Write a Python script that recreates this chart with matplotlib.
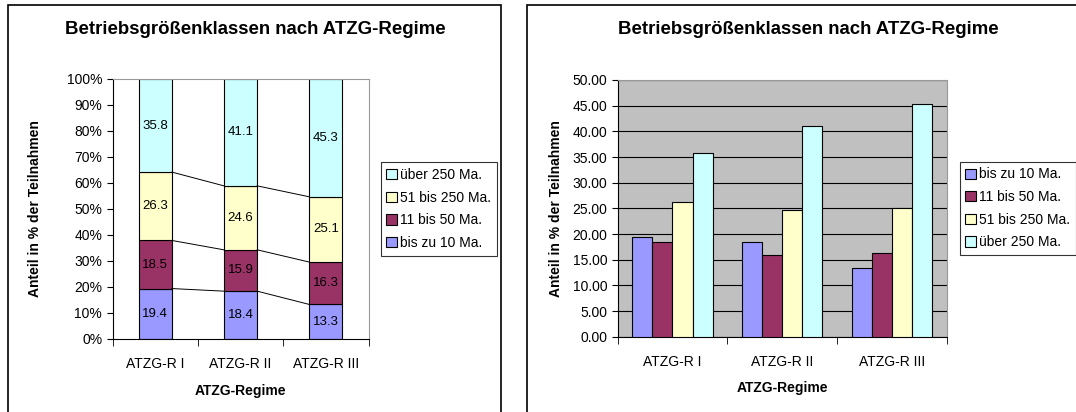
import numpy as np
import matplotlib.pyplot as plt
from matplotlib.patches import Rectangle

plt.rcParams['font.family'] = ['Liberation Sans', 'DejaVu Sans']

regime = ['ATZG-R I', 'ATZG-R II', 'ATZG-R III']
klassen = ['bis zu 10 Ma.', '11 bis 50 Ma.', '51 bis 250 Ma.', 'über 250 Ma.']
bis10 = [19.4, 18.4, 13.3]
bis50 = [18.5, 15.9, 16.3]
bis250 = [26.3, 24.6, 25.1]
ueber250 = [35.8, 41.1, 45.3]
farben = ['#9999FF', '#993366', '#FFFFCC', '#CCFFFF']

W, H = 1076, 412
fig = plt.figure(figsize=(W / 100, H / 100), dpi=100)

def px_axes(x0, y0, x1, y1):
    return fig.add_axes([x0 / W, (H - y1) / H, (x1 - x0) / W, (y1 - y0) / H])

# panel frames
fig.patches.append(Rectangle((8 / W, -0.1), (501 - 8) / W, (H - 5) / H + 0.1,
                             transform=fig.transFigure, fill=False, ec='black', lw=1.2))
fig.patches.append(Rectangle((527 / W, -0.1), 0.6, (H - 5) / H + 0.1,
                             transform=fig.transFigure, fill=False, ec='black', lw=1.2))

serien = [bis10, bis50, bis250, ueber250]
x = np.arange(len(regime))
fs = 10
titel = 'Betriebsgrößenklassen nach ATZG-Regime'

# left: stacked 100%
ax1 = px_axes(112.6, 79, 368.5, 339)
bw = 0.39
unten = np.zeros(3)
handles = []
for werte, farbe, name in zip(serien, farben, klassen):
    werte = np.array(werte)
    b = ax1.bar(x, werte, bw, bottom=unten, color=farbe, edgecolor='black', lw=0.8, label=name)
    handles.append(b)
    for xi, u, v in zip(x, unten, werte):
        ax1.text(xi, u + v / 2, f'{v:.1f}', ha='center', va='center', fontsize=9.5)
    unten = unten + werte
    if name != klassen[-1]:
        for i in range(2):
            ax1.plot([x[i] + bw / 2, x[i + 1] - bw / 2], [unten[i], unten[i + 1]],
                     color='black', lw=0.7)
ax1.set_xlim(-0.5, 2.5)
ax1.set_ylim(0, 100)
ax1.set_yticks(np.arange(0, 101, 10))
ax1.set_yticklabels([f'{v}%' for v in range(0, 101, 10)], fontsize=fs)
ax1.set_xticks(x)
ax1.set_xticklabels(regime, fontsize=fs)
ax1.set_xticks([-0.5, 0.5, 1.5, 2.5], minor=True)
ax1.tick_params(axis='x', which='major', length=0, pad=13)
ax1.tick_params(axis='x', which='minor', length=5, direction='out')
ax1.tick_params(axis='y', length=4, direction='out')
for s in ['top', 'right']:
    ax1.spines[s].set_color('#999999')
ax1.set_ylabel('Anteil in % der Teilnahmen', fontsize=fs, fontweight='bold', labelpad=18)
ax1.set_xlabel('ATZG-Regime', fontsize=fs, fontweight='bold', labelpad=9)
leg1 = ax1.legend(handles[::-1], klassen[::-1], loc='center left', bbox_to_anchor=(1.047, 0.5),
                  fontsize=fs, frameon=True, fancybox=False, edgecolor='black',
                  handlelength=0.75, handleheight=0.75, handletextpad=0.25, labelspacing=0.62,
                  borderpad=0.42, borderaxespad=0)
leg1.get_frame().set_linewidth(0.8)
fig.text(255 / W, 1 - 30 / H, titel, ha='center', va='center', fontsize=13.4, fontweight='bold')

# right: grouped bars
ax2 = px_axes(617.6, 80, 946.8, 336.7)
ax2.set_facecolor('#C0C0C0')
bw2 = 0.1835
for k, (werte, farbe, name) in enumerate(zip(serien, farben, klassen)):
    ax2.bar(x + (k - 1.5) * bw2, werte, bw2, color=farbe, edgecolor='black', lw=0.8,
            label=name, zorder=3)
ax2.set_xlim(-0.5, 2.5)
ax2.set_ylim(0, 50)
ax2.set_yticks(np.arange(0, 51, 5))
ax2.set_yticklabels([f'{v:.2f}' for v in range(0, 51, 5)], fontsize=fs)
ax2.yaxis.grid(True, color='black', lw=0.8, zorder=0)
ax2.set_axisbelow(True)
ax2.set_xticks(x)
ax2.set_xticklabels(regime, fontsize=fs)
ax2.set_xticks([-0.5, 0.5, 1.5, 2.5], minor=True)
ax2.tick_params(axis='x', which='major', length=0, pad=13)
ax2.tick_params(axis='x', which='minor', length=5, direction='out')
ax2.tick_params(axis='y', length=4, direction='out')
for s in ['top', 'right']:
    ax2.spines[s].set_color('#999999')
ax2.set_ylabel('Anteil in % der Teilnahmen', fontsize=fs, fontweight='bold', labelpad=7)
ax2.set_xlabel('ATZG-Regime', fontsize=fs, fontweight='bold', labelpad=9)
leg2 = ax2.legend(loc='center left', bbox_to_anchor=(1.039, 0.5),
                  fontsize=fs, frameon=True, fancybox=False, edgecolor='black',
                  handlelength=0.75, handleheight=0.75, handletextpad=0.25, labelspacing=0.62,
                  borderpad=0.42, borderaxespad=0)
leg2.get_frame().set_linewidth(0.8)
fig.text(808 / W, 1 - 30 / H, titel, ha='center', va='center', fontsize=13.4, fontweight='bold')

fig.savefig('out.png', dpi=100)
